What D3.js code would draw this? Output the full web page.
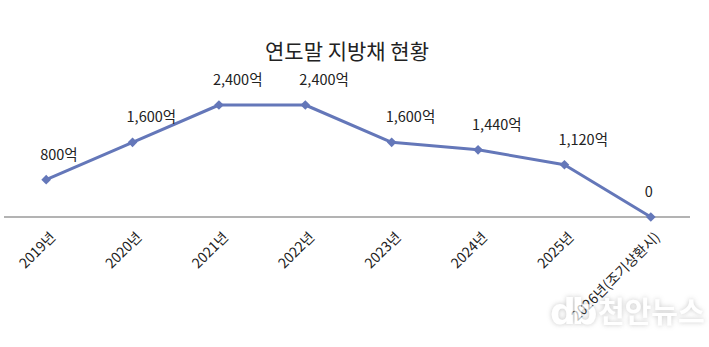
<!DOCTYPE html>
<html>
<head>
<meta charset="utf-8">
<script src="https://cdn.jsdelivr.net/npm/d3@7"></script>
<style>
  html, body { margin: 0; padding: 0; background: #fff; }
  svg { display: block; }
</style>
</head>
<body>
<svg id="chart" width="709" height="347"></svg>
<script>
// Year-end local bond balance (unit: 억)
const categories = ["2019년", "2020년", "2021년", "2022년", "2023년", "2024년", "2025년", "2026년(조기상환시)"];
const values = [800, 1600, 2400, 2400, 1600, 1440, 1120, 0];
const valueLabels = ["800억", "1,600억", "2,400억", "2,400억", "1,600억", "1,440억", "1,120억", "0"];
const title = "연도말 지방채 현황";

const font = "'Noto Sans CJK KR', 'Noto Sans', sans-serif";
const svg = d3.select("#chart");
const W = 709, H = 347;

const x = d3.scaleBand().domain(categories).range([3, 694]).padding(0);
const y = d3.scaleLinear().domain([0, 2400]).range([217, 105]);
const cx = d => x(d) + x.bandwidth() / 2;

svg.append("rect").attr("width", W).attr("height", H).attr("fill", "#fff");

// Title
svg.append("text")
  .attr("x", 347).attr("y", 59)
  .attr("text-anchor", "middle")
  .attr("font-family", font).attr("font-size", 21)
  .attr("fill", "#222")
  .text(title);

// Category axis
const xAxis = d3.axisBottom(x).tickSize(0).tickSizeOuter(0);
const gx = svg.append("g").attr("transform", `translate(0,${y(0)})`).call(xAxis);
gx.select(".domain").attr("stroke", "#9a9a9a").attr("stroke-width", 1.5)
  .attr("d", `M4,0H690`);
gx.selectAll(".tick text")
  .attr("font-family", font).attr("font-size", 14).attr("fill", "#222")
  .attr("text-anchor", "end")
  .attr("dy", null)
  .attr("transform", "translate(8,19) rotate(-45)");

// Series line
const pts = categories.map((c, i) => ({ c, v: values[i], label: valueLabels[i] }));
svg.append("path")
  .datum(pts)
  .attr("fill", "none")
  .attr("stroke", "#6477b9")
  .attr("stroke-width", 3)
  .attr("stroke-linejoin", "round")
  .attr("d", d3.line().x(d => cx(d.c)).y(d => y(d.v)));

// Diamond markers
svg.selectAll(".marker").data(pts).join("path")
  .attr("class", "marker")
  .attr("d", d3.symbol().type(d3.symbolDiamond2).size(60))
  .attr("transform", d => `translate(${cx(d.c)},${y(d.v)})`)
  .attr("fill", "#6477b9");

// Value labels
svg.selectAll(".vlabel").data(pts).join("text")
  .attr("class", "vlabel")
  .attr("x", d => cx(d.c) - 6)
  .attr("y", d => y(d.v) - 20)
  .attr("font-family", font).attr("font-size", 14.5).attr("fill", "#222")
  .text(d => d.label);

// Watermark
const defs = svg.append("defs");
const f = defs.append("filter").attr("id", "wmShadow").attr("x", "-20%").attr("y", "-40%").attr("width", "140%").attr("height", "180%");
f.append("feGaussianBlur").attr("in", "SourceAlpha").attr("stdDeviation", 2.5).attr("result", "b");
f.append("feFlood").attr("flood-color", "#9a9a9a").attr("flood-opacity", 0.8);
f.append("feComposite").attr("in2", "b").attr("operator", "in").attr("result", "s");
const m = f.append("feMerge");
m.append("feMergeNode").attr("in", "s");
m.append("feMergeNode").attr("in", "SourceGraphic");

const wm = svg.append("g").attr("filter", "url(#wmShadow)").attr("opacity", 0.7);
wm.append("text")
  .attr("x", 550).attr("y", 324)
  .attr("font-family", "'DejaVu Sans', sans-serif").attr("font-weight", "bold")
  .attr("font-size", 36).attr("fill", "#fff")
  .attr("letter-spacing", -4)
  .text("db");
wm.append("text")
  .attr("x", 598).attr("y", 323)
  .attr("font-family", font).attr("font-weight", "bold")
  .attr("font-size", 29).attr("fill", "#fff")
  .text("천안뉴스");
</script>
</body>
</html>
